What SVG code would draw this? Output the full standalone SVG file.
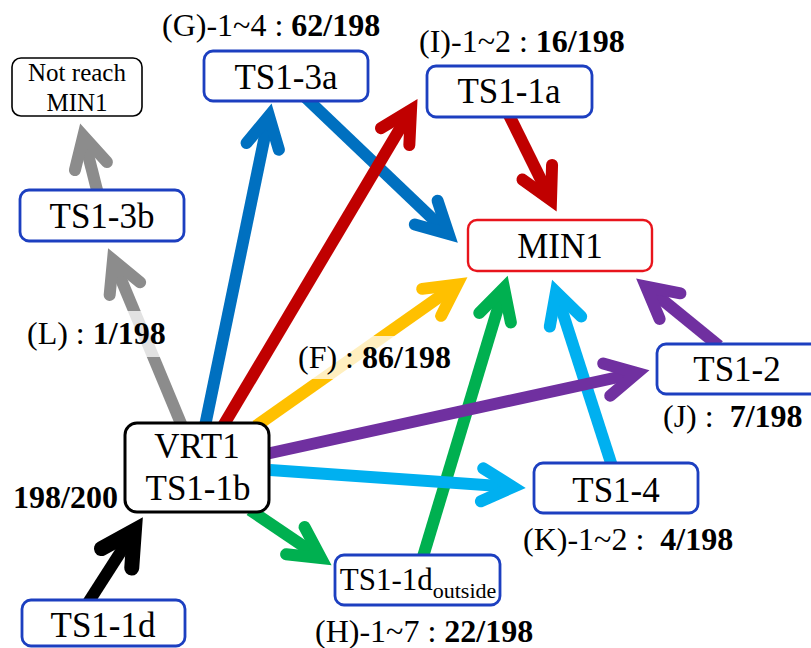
<svg xmlns="http://www.w3.org/2000/svg" width="811" height="648" viewBox="0 0 811 648">
  <style>
    .box { fill: #ffffff; stroke: #1c3fc0; stroke-width: 2.8; }
    .blk { fill: #ffffff; stroke: #000000; }
    .red { fill: #ffffff; stroke: #e8141c; stroke-width: 2.4; }
    .lb { font-size: 32px; fill: #000; white-space: pre; }
    .b { font-weight: bold; }
    .ln { fill: none; stroke-width: 12; stroke-linecap: butt; }
    .veil { fill: #ffffff; fill-opacity: 0.75; }
  </style>
  <defs>
    <marker id="hGray" markerUnits="userSpaceOnUse" orient="auto" overflow="visible" markerWidth="80" markerHeight="80" viewBox="-40 -40 80 80" refX="0" refY="0">
      <path d="M-31,-16.5 L0,0 L-31,16.5" fill="none" stroke="#8c8c8c" stroke-width="12" stroke-linecap="round"/>
    </marker>
    <marker id="hBlue" markerUnits="userSpaceOnUse" orient="auto" overflow="visible" markerWidth="80" markerHeight="80" viewBox="-40 -40 80 80" refX="0" refY="0">
      <path d="M-31,-16.5 L0,0 L-31,16.5" fill="none" stroke="#0070c0" stroke-width="12" stroke-linecap="round"/>
    </marker>
    <marker id="hRed" markerUnits="userSpaceOnUse" orient="auto" overflow="visible" markerWidth="80" markerHeight="80" viewBox="-40 -40 80 80" refX="0" refY="0">
      <path d="M-31,-16.5 L0,0 L-31,16.5" fill="none" stroke="#c00000" stroke-width="12" stroke-linecap="round"/>
    </marker>
    <marker id="hGold" markerUnits="userSpaceOnUse" orient="auto" overflow="visible" markerWidth="80" markerHeight="80" viewBox="-40 -40 80 80" refX="0" refY="0">
      <path d="M-31,-16.5 L0,0 L-31,16.5" fill="none" stroke="#ffc000" stroke-width="12" stroke-linecap="round"/>
    </marker>
    <marker id="hGreen" markerUnits="userSpaceOnUse" orient="auto" overflow="visible" markerWidth="80" markerHeight="80" viewBox="-40 -40 80 80" refX="0" refY="0">
      <path d="M-31,-16.5 L0,0 L-31,16.5" fill="none" stroke="#00b050" stroke-width="12" stroke-linecap="round"/>
    </marker>
    <marker id="hCyan" markerUnits="userSpaceOnUse" orient="auto" overflow="visible" markerWidth="80" markerHeight="80" viewBox="-40 -40 80 80" refX="0" refY="0">
      <path d="M-31,-16.5 L0,0 L-31,16.5" fill="none" stroke="#00b0f0" stroke-width="12" stroke-linecap="round"/>
    </marker>
    <marker id="hPurple" markerUnits="userSpaceOnUse" orient="auto" overflow="visible" markerWidth="80" markerHeight="80" viewBox="-40 -40 80 80" refX="0" refY="0">
      <path d="M-31,-16.5 L0,0 L-31,16.5" fill="none" stroke="#7030a0" stroke-width="12" stroke-linecap="round"/>
    </marker>
    <marker id="hBlack" markerUnits="userSpaceOnUse" orient="auto" overflow="visible" markerWidth="90" markerHeight="90" viewBox="-45 -45 90 90" refX="0" refY="0">
      <path d="M-33,-18 L0,0 L-33,18" fill="none" stroke="#000000" stroke-width="15" stroke-linecap="round"/>
    </marker>
  </defs>

  <rect width="811" height="648" fill="#ffffff"/>

  <!-- connectors -->
  <g id="connectors">
    <path class="ln" stroke="#00b050" d="M250,510 L321,558" marker-end="url(#hGreen)"/>
    <path class="ln" stroke="#00b050" d="M422,560 L504,288" marker-end="url(#hGreen)"/>
    <path class="ln" stroke="#00b0f0" d="M270,470 L513,487" marker-end="url(#hCyan)"/>
    <path class="ln" stroke="#00b0f0" d="M612,466 L556,292" marker-end="url(#hCyan)"/>
    <path class="ln" stroke="#7030a0" d="M266,454 L637,373" marker-end="url(#hPurple)"/>
    <path class="ln" stroke="#7030a0" d="M719,346 L646,286.5" marker-end="url(#hPurple)"/>
    <path class="ln" stroke="#ffc000" d="M256,426 L457,284.5" marker-end="url(#hGold)"/>
    <path class="ln" stroke="#0070c0" d="M205,426 L269,116" marker-end="url(#hBlue)"/>
    <path class="ln" stroke="#0070c0" d="M305,97 L448.6,234" marker-end="url(#hBlue)"/>
    <path class="ln" stroke="#c00000" d="M223,426 L411,110" marker-end="url(#hRed)"/>
    <path class="ln" stroke="#c00000" d="M508,113 L551,200" marker-end="url(#hRed)"/>
    <path class="ln" stroke="#8c8c8c" d="M98,194 L83.3,136" marker-end="url(#hGray)"/>
    <path class="ln" stroke="#8c8c8c" d="M182,426 L113,260" marker-end="url(#hGray)"/>
    <path class="ln" stroke="#000000" stroke-width="15" d="M86,606 L134.4,530.5" marker-end="url(#hBlack)"/>
  </g>

  <!-- edge labels (with light veils over the lines they sit on) -->
  <g id="labels" font-family="'Liberation Serif', 'Times New Roman', serif">
    <rect class="veil" x="22" y="311" width="150" height="46"/>
    <rect class="veil" x="294" y="336" width="164" height="43"/>
    <text class="lb" x="162" y="36">(G)-1~4 : <tspan class="b">62/198</tspan></text>
    <text class="lb" x="419" y="52">(I)-1~2 : <tspan class="b">16/198</tspan></text>
    <text class="lb" x="27" y="344">(L) : <tspan class="b">1/198</tspan></text>
    <text class="lb" x="298" y="368">(F) : <tspan class="b">86/198</tspan></text>
    <text class="lb b" x="13" y="508">198/200</text>
    <text class="lb" x="663" y="427">(J) :  <tspan class="b">7/198</tspan></text>
    <text class="lb" x="523" y="550">(K)-1~2 :  <tspan class="b">4/198</tspan></text>
    <text class="lb" x="315" y="642">(H)-1~7 : <tspan class="b">22/198</tspan></text>
  </g>

  <!-- nodes -->
  <g id="nodes" font-family="'Liberation Serif', 'Times New Roman', serif" font-size="35" text-anchor="middle" fill="#000000">
    <g id="not-reach">
      <rect class="blk" stroke-width="1.6" x="12" y="58" width="130" height="58" rx="9"/>
      <text x="77" y="81" font-size="25">Not reach</text>
      <text x="77" y="111" font-size="25">MIN1</text>
    </g>
    <g id="ts1-3a">
      <rect class="box" x="204" y="51" width="164" height="50" rx="9"/>
      <text x="286" y="89">TS1-3a</text>
    </g>
    <g id="ts1-3b">
      <rect class="box" x="20" y="190" width="164" height="51" rx="9"/>
      <text x="102" y="228">TS1-3b</text>
    </g>
    <g id="ts1-1a">
      <rect class="box" x="427" y="66" width="165" height="51" rx="9"/>
      <text x="509" y="103">TS1-1a</text>
    </g>
    <g id="min1">
      <rect class="red" x="468" y="220" width="184" height="51" rx="9"/>
      <text x="560" y="258">MIN1</text>
    </g>
    <g id="vrt1">
      <rect class="blk" stroke-width="3" x="125" y="423" width="144" height="89" rx="12"/>
      <text x="197" y="458">VRT1</text>
      <text x="198" y="500">TS1-1b</text>
    </g>
    <g id="ts1-2">
      <rect class="box" x="657" y="344" width="164" height="50" rx="9"/>
      <text x="737" y="381">TS1-2</text>
    </g>
    <g id="ts1-4">
      <rect class="box" x="534" y="463" width="164" height="50" rx="9"/>
      <text x="616" y="502">TS1-4</text>
    </g>
    <g id="ts1-1d-outside">
      <rect class="box" x="335" y="555" width="165" height="50" rx="9"/>
      <text x="418" y="590" font-size="31">TS1-1d<tspan font-size="22" dy="8">outside</tspan></text>
    </g>
    <g id="ts1-1d">
      <rect class="box" x="22" y="600" width="163" height="46" rx="9"/>
      <text x="103" y="637">TS1-1d</text>
    </g>
  </g>
</svg>
